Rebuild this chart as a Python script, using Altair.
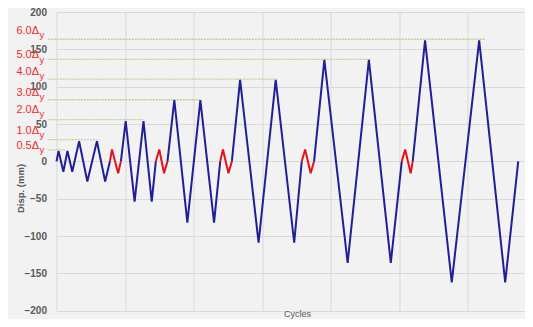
import altair as alt
import pandas as pd

# ---- waveform (x in grid "cycle" units, y in mm) ----
cycles = [0.00, 0.03, 0.10, 0.16, 0.23, 0.33, 0.45, 0.59, 0.71, 0.78,
          0.78, 0.81, 0.90, 0.94,
          0.94, 1.01, 1.14, 1.27, 1.39, 1.45,
          1.45, 1.50, 1.57, 1.62,
          1.62, 1.72, 1.91, 2.10, 2.30, 2.39,
          2.39, 2.43, 2.51, 2.56,
          2.56, 2.68, 2.95, 3.20, 3.47, 3.58,
          3.58, 3.63, 3.71, 3.76,
          3.76, 3.91, 4.25, 4.56, 4.88, 5.04,
          5.04, 5.09, 5.17, 5.20,
          5.20, 5.38, 5.77, 6.17, 6.55, 6.74]
disp = [0, 14, -14, 14, -14, 27, -27, 27, -27, 0,
        0, 16, -16, 0,
        0, 54, -54, 54, -54, 0,
        0, 16, -16, 0,
        0, 82, -82, 82, -82, 0,
        0, 16, -16, 0,
        0, 109, -109, 109, -109, 0,
        0, 16, -16, 0,
        0, 136, -136, 136, -136, 0,
        0, 16, -16, 0,
        0, 162, -162, 162, -162, 0]
segment = ([0] * 10 + [1] * 4 + [2] * 6 + [3] * 4 + [4] * 6 + [5] * 4 +
           [6] * 6 + [7] * 4 + [8] * 6 + [9] * 4 + [10] * 6)

# ---- reference levels (k * Δy) ----
level_names = ["6.0Δ", "5.0Δ", "4.0Δ", "3.0Δ", "2.0Δ", "1.0Δ", "0.5Δ"]
level_values = [163.5, 136.5, 110, 82.5, 56, 29, 15.5]
level_start = [-0.128] * 7
level_end = [6.255, 4.60, 3.22, 2.105, 1.267, 0.587, 0.124]
label_values = [175, 142.4, 120, 92, 68.8, 41, 21]
label_x = [-0.255] * 7

y_ticks = [-200, -150, -100, -50, 0, 50, 100, 150, 200]
x_grid = [0, 1, 2, 3, 4, 5, 6]

df_line = pd.DataFrame({
    "cyc": cycles,
    "disp": disp,
    "seg": segment,
    "idx": list(range(len(cycles))),
    "kind": ["red" if s % 2 else "blue" for s in segment],
})
df_ref = pd.DataFrame({"cyc": level_start, "cyc2": level_end, "disp": level_values})
df_lab = pd.DataFrame({"cyc": label_x, "disp": label_values, "t": level_names,
                       "s": ["y"] * 7})

FONT = "Liberation Sans"
GRAY = "#595959"

xscale = alt.Scale(domain=[0, 6.839], nice=False, zero=False)
yscale = alt.Scale(domain=[-200, 200], nice=False)

xaxis = alt.Axis(title="Cycles", values=x_grid, labels=False, ticks=False,
                 domain=False, grid=True, gridColor="#d9d9d9",
                 titleFont=FONT, titleFontSize=9, titleFontWeight="normal",
                 titleColor=GRAY, titleX=240.5, titleY=3, titleBaseline="middle")
yaxis = alt.Axis(title="Disp. (mm)", values=y_ticks, tickCount=9, ticks=False, domain=False,
                 grid=True, gridColor="#d9d9d9", labelPadding=10,
                 labelOverlap=False, labelBound=False,
                 labelFont=FONT, labelFontSize=10, labelFontWeight="bold",
                 labelColor=GRAY, titleFont=FONT, titleFontSize=9.5,
                 titleFontWeight="bold", titleColor=GRAY, titleX=-36.5,
                 titleY=176, titleAlign="center", titleBaseline="middle",
                 titleAngle=-90)

X = alt.X("cyc:Q", scale=xscale, axis=xaxis)
Y = alt.Y("disp:Q", scale=yscale, axis=yaxis)

line = alt.Chart(df_line).mark_line(strokeWidth=2).encode(
    x=X,
    y=Y,
    detail="seg:N",
    order="idx:Q",
    color=alt.Color("kind:N", scale=alt.Scale(domain=["blue", "red"],
                                              range=["#1f1f96", "#e3121c"]), legend=None),
)

refs = alt.Chart(df_ref).mark_rule(color="#bcd495", strokeWidth=1.3, strokeDash=[2, 1]).encode(
    x=X,
    x2="cyc2:Q",
    y=Y,
)

labels = alt.Chart(df_lab).mark_text(align="right", baseline="middle", font=FONT,
                                     fontSize=11, color="#f0282d").encode(
    x=X,
    y=Y,
    text="t:N",
)
subs = alt.Chart(df_lab).mark_text(align="left", baseline="middle", font=FONT,
                                   fontSize=9.5, color="#f0282d", dx=0.5, dy=4.5).encode(
    x=X,
    y=Y,
    text="s:N",
)

chart = alt.layer(refs, line, labels, subs).properties(
    width=468.5,
    height=298.7,
    padding={"left": 48.5, "top": 4, "right": 0, "bottom": 8.3},
    autosize=alt.AutoSizeParams(type="none"),
    background="#f2f2f2",
).configure_view(fill="#f2f2f2", stroke=None)

chart.save("out.html", embed_options={"renderer": "svg", "actions": False})
